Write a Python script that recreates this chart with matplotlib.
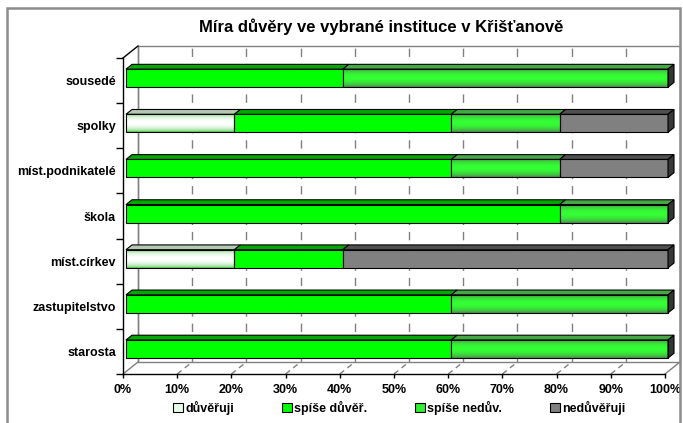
import matplotlib
matplotlib.use('Agg')
import matplotlib.pyplot as plt
import numpy as np
from matplotlib.patches import Polygon, Rectangle
from matplotlib.colors import to_rgb

plt.rcParams['font.family'] = ['Liberation Sans', 'DejaVu Sans']

# data, bottom to top as drawn
categories = ['starosta', 'zastupitelstvo', 'míst.církev', 'škola',
              'míst.podnikatelé', 'spolky', 'sousedé']
series = ['důvěřuji', 'spíše důvěř.', 'spíše nedův.', 'nedůvěřuji']
duveruji = [0, 0, 20, 0, 0, 20, 0]
spise_duver = [60, 60, 20, 80, 60, 40, 40]
spise_neduv = [40, 40, 0, 20, 20, 20, 60]
neduveruji = [0, 0, 60, 0, 20, 20, 0]
values = [duveruji, spise_duver, spise_neduv, neduveruji]
xticks = list(range(0, 101, 10))

W, H = 683, 423
fig = plt.figure(figsize=(W / 100, H / 100), dpi=100)

# front plane of the 3d box in pixels
x0, x1, y0, y1 = 123, 665, 58, 374
ax = fig.add_axes([x0 / W, 1 - y1 / H, (x1 - x0) / W, (y1 - y0) / H])
ax.set_xlim(0, 100)
ax.set_ylim(0, len(categories))

# depth offset (one unit of depth) in data units
DX = 15 / ((x1 - x0) / 100)
DY = 12 / ((y1 - y0) / len(categories))


def P(x, y, d):
    return (x + d * DX, y + d * DY)


def poly(pts, **kw):
    kw.setdefault('clip_on', False)
    ax.add_patch(Polygon(pts, closed=True, **kw))


# walls
n = len(categories)
back = [P(0, 0, 1), P(100, 0, 1), P(100, n, 1), P(0, n, 1)]
poly(back, facecolor='white', edgecolor='#808080', lw=1.0, zorder=1)
for t in xticks[1:-1]:
    ax.plot([t + DX, t + DX], [DY, n + DY], color='#808080', lw=1.0,
            dashes=(6, 5), clip_on=False, zorder=1)
    ax.plot([t, t + DX], [0, DY], color='#808080', lw=1.0,
            dashes=(4, 3), clip_on=False, zorder=1)
ax.plot([DX, DX], [DY, n + DY], color='#808080', lw=1.0, clip_on=False, zorder=1)
ax.plot([0, DX], [0, DY], color='#808080', lw=1.0, clip_on=False, zorder=1)
ax.plot([100, 100 + DX], [0, DY], color='#808080', lw=1.0, clip_on=False, zorder=1)
ax.plot([0, DX], [n, n + DY], color='black', lw=1.0, clip_on=False, zorder=6)
ax.plot([0, 0], [0, n], color='black', lw=1.0, clip_on=False, zorder=6)
ax.plot([0, 100], [0, 0], color='black', lw=1.0, clip_on=False, zorder=6)


def gradient(edge, center, power):
    t = np.linspace(0, 1, 64)
    f = np.sin(np.pi * t) ** power
    e = np.array(to_rgb(edge))
    c = np.array(to_rgb(center))
    return (e[None, :] * (1 - f[:, None]) + c[None, :] * f[:, None])[:, None, :]


front_style = {
    0: ('grad', gradient('#30c030', '#ffffff', 0.45)),
    1: ('flat', '#00ff00'),
    2: ('grad', gradient('#4f854f', '#33ff33', 0.7)),
    3: ('flat', '#808080'),
}
top_colors = ['#b4c8b4', '#00a800', '#44a844', '#505050']
side_colors = ['#607060', '#007000', '#303830', '#383838']

bh = 0.4
d0, d1 = 0.2, 0.6
for i in range(n):
    yb = i + 0.5 - bh / 2
    yt = yb + bh
    left = 0
    last = None
    for s in range(len(series)):
        v = values[s][i]
        if v == 0:
            continue
        right = left + v
        fx0, fyb = P(left, yb, d0)
        fx1, fyt = P(right, yt, d0)
        kind, col = front_style[s]
        if kind == 'flat':
            ax.add_patch(Rectangle((fx0, fyb), fx1 - fx0, fyt - fyb, facecolor=col,
                                   edgecolor='black', lw=0.8, zorder=4, clip_on=False))
        else:
            ax.imshow(col, extent=(fx0, fx1, fyb, fyt), aspect='auto', zorder=4,
                      interpolation='bilinear', clip_on=False)
            ax.add_patch(Rectangle((fx0, fyb), fx1 - fx0, fyt - fyb, facecolor='none',
                                   edgecolor='black', lw=0.8, zorder=4.1, clip_on=False))
        poly([P(left, yt, d0), P(right, yt, d0), P(right, yt, d1), P(left, yt, d1)],
             facecolor=top_colors[s], edgecolor='black', lw=0.8, zorder=4)
        last = (s, right)
        left = right
    s, right = last
    poly([P(right, yb, d0), P(right, yb, d1), P(right, yt, d1), P(right, yt, d0)],
         facecolor=side_colors[s], edgecolor='black', lw=0.8, zorder=4)

ax.set_xlim(0, 100)
ax.set_ylim(0, n)

for sp in ax.spines.values():
    sp.set_visible(False)
ax.patch.set_visible(False)
ax.set_xticks(xticks)
ax.set_xticklabels([f'{t}%' for t in xticks], fontsize=9, fontweight='bold')
ax.tick_params(axis='x', length=3, width=1, pad=4)
ax.set_yticks(np.arange(n) + 0.5)
ax.set_yticklabels(categories, fontsize=9, fontweight='bold')
ax.set_yticks(np.arange(n + 1), minor=True)
ax.tick_params(axis='y', which='major', length=0, pad=5)
ax.tick_params(axis='y', which='minor', length=5, width=1)

# legend
legend_faces = ['#e6ffe6', '#00ff00', '#33ee33', '#808080']
handles = [Rectangle((0, 0), 1, 1, facecolor=c, edgecolor='black', lw=0.8)
           for c in legend_faces]
fig.legend(handles, series, loc='center', ncol=4, frameon=False,
           bbox_to_anchor=(399 / W, 1 - 408 / H),
           prop={'weight': 'bold', 'size': 9}, handlelength=0.8, handleheight=0.8,
           handletextpad=0.2, columnspacing=3.8)

fig.text(381 / W, 1 - 27 / H, 'Míra důvěry ve vybrané instituce v Křišťanově',
         ha='center', va='center', fontsize=12, fontweight='bold')

# chart area frame
fig.add_artist(Rectangle((7 / W, -0.05), (680 - 7) / W, 1.05 - 8 / H,
                         transform=fig.transFigure, facecolor='none',
                         edgecolor='#8c8c8c', lw=1.8))

fig.savefig('out.png', dpi=100)
